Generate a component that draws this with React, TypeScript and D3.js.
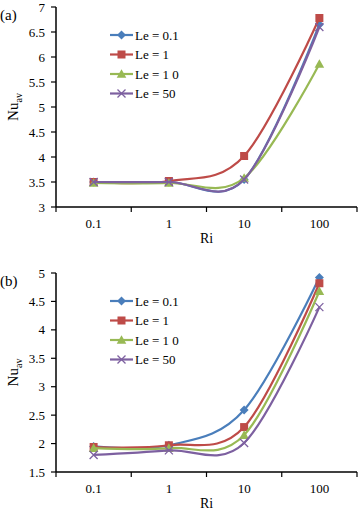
import React from "react";
import * as d3 from "d3";

const categories = ["0.1", "1", "10", "100"];
const seriesNames = ["Le = 0.1", "Le = 1", "Le = 1 0", "Le = 50"];
const seriesColors = ["#4A7EBB", "#BE4B48", "#98B954", "#7D60A0"];
const markerTypes = ["diamond", "square", "triangle", "x"];

// Panel (a)
const aLe01 = [3.5, 3.5, 3.55, 6.65];
const aLe1 = [3.5, 3.52, 4.02, 6.78];
const aLe10 = [3.48, 3.48, 3.58, 5.86];
const aLe50 = [3.5, 3.5, 3.55, 6.6];
const aTicks = [3, 3.5, 4, 4.5, 5, 5.5, 6, 6.5, 7];

// Panel (b)
const bLe01 = [1.95, 1.97, 2.59, 4.92];
const bLe1 = [1.94, 1.97, 2.29, 4.82];
const bLe10 = [1.92, 1.92, 2.15, 4.68];
const bLe50 = [1.8, 1.88, 2.01, 4.4];
const bTicks = [1.5, 2, 2.5, 3, 3.5, 4, 4.5, 5];

const FONT = "'Liberation Serif', 'Times New Roman', serif";

function Marker({ type, x, y, color }: { type: string; x: number; y: number; color: string }) {
  if (type === "diamond") {
    const s = 4.5;
    return <path d={`M${x},${y - s}L${x + s},${y}L${x},${y + s}L${x - s},${y}Z`} fill={color} />;
  }
  if (type === "square") {
    const s = 4;
    return <rect x={x - s} y={y - s} width={2 * s} height={2 * s} fill={color} />;
  }
  if (type === "triangle") {
    const s = 4.8;
    return <path d={`M${x},${y - s}L${x + s},${y + s * 0.8}L${x - s},${y + s * 0.8}Z`} fill={color} />;
  }
  const s = 4;
  return (
    <path
      d={`M${x - s},${y - s}L${x + s},${y + s}M${x - s},${y + s}L${x + s},${y - s}`}
      stroke={color}
      strokeWidth={1.3}
      fill="none"
    />
  );
}

function Panel({
  label,
  series,
  ticks,
  top,
  bottom,
  legendTop,
}: {
  label: string;
  series: number[][];
  ticks: number[];
  top: number;
  bottom: number;
  legendTop: number;
}) {
  const left = 56;
  const right = 357;
  const x = d3.scaleBand<string>().domain(categories).range([left, right]);
  const y = d3
    .scaleLinear()
    .domain([ticks[0], ticks[ticks.length - 1]])
    .range([bottom, top]);
  const line = d3
    .line<number>()
    .x((_, i) => (x(categories[i]) as number) + x.bandwidth() / 2)
    .y((d) => y(d))
    .curve(d3.curveCardinal.tension(0));
  const tickFmt = (t: number) => String(t);
  const boundaries = [...categories.map((c) => x(c) as number), right];
  const midY = (top + bottom) / 2;
  return (
    <g>
      <text x={0} y={top + 13} fontFamily={FONT} fontSize={15}>
        {label}
      </text>
      {/* Axes */}
      <line x1={left} x2={left} y1={top} y2={bottom} stroke="#000" strokeWidth={1.5} />
      <line x1={left} x2={right} y1={bottom} y2={bottom} stroke="#000" strokeWidth={1.5} />
      {ticks.map((t) => (
        <g key={t}>
          <line x1={left - 5} x2={left} y1={y(t)} y2={y(t)} stroke="#000" strokeWidth={1.2} />
          <text
            x={left - 11}
            y={y(t)}
            dy="0.35em"
            textAnchor="end"
            fontFamily={FONT}
            fontSize={13}
          >
            {tickFmt(t)}
          </text>
        </g>
      ))}
      {boundaries.map((b, i) => (
        <line key={i} x1={b} x2={b} y1={bottom} y2={bottom + 5} stroke="#000" strokeWidth={1.2} />
      ))}
      {categories.map((c) => (
        <text
          key={c}
          x={(x(c) as number) + x.bandwidth() / 2}
          y={bottom + 21}
          textAnchor="middle"
          fontFamily={FONT}
          fontSize={13}
        >
          {c}
        </text>
      ))}
      <text x={(left + right) / 2} y={bottom + 36} textAnchor="middle" fontFamily={FONT} fontSize={14}>
        Ri
      </text>
      <text
        transform={`translate(18,${midY}) rotate(-90)`}
        textAnchor="middle"
        fontFamily={FONT}
        fontSize={15}
      >
        Nu<tspan fontSize={10} dy={4}>av</tspan>
      </text>
      {/* Series */}
      {series.map((s, k) => (
        <g key={k}>
          <path d={line(s) || ""} fill="none" stroke={seriesColors[k]} strokeWidth={2.2} />
          {s.map((v, i) => (
            <Marker
              key={i}
              type={markerTypes[k]}
              x={(x(categories[i]) as number) + x.bandwidth() / 2}
              y={y(v)}
              color={seriesColors[k]}
            />
          ))}
        </g>
      ))}
      {/* Legend */}
      {seriesNames.map((n, k) => {
        const ly = legendTop + k * 19.5;
        return (
          <g key={n}>
            <line x1={110} x2={133} y1={ly} y2={ly} stroke={seriesColors[k]} strokeWidth={2.2} />
            <Marker type={markerTypes[k]} x={121.5} y={ly} color={seriesColors[k]} />
            <text x={135} y={ly} dy="0.35em" fontFamily={FONT} fontSize={13}>
              {n}
            </text>
          </g>
        );
      })}
    </g>
  );
}

export default function App() {
  return (
    <svg
      width={358}
      height={510}
      style={{ position: "absolute", left: 0, top: 0, background: "#fff" }}
    >
      <Panel
        label="(a)"
        series={[aLe01, aLe1, aLe10, aLe50]}
        ticks={aTicks}
        top={7}
        bottom={207}
        legendTop={35}
      />
      <Panel
        label="(b)"
        series={[bLe01, bLe1, bLe10, bLe50]}
        ticks={bTicks}
        top={273}
        bottom={472}
        legendTop={301}
      />
    </svg>
  );
}
